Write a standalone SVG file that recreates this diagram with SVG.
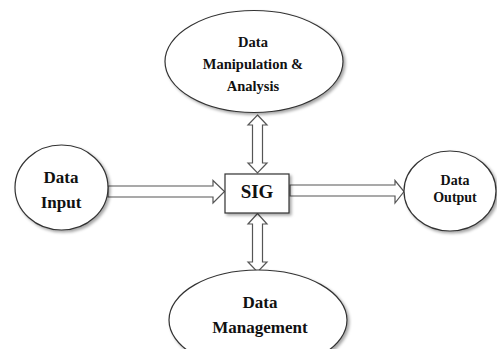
<svg xmlns="http://www.w3.org/2000/svg" width="497" height="349" viewBox="0 0 497 349">
<defs>
<filter id="sh" x="-20%" y="-20%" width="140%" height="140%">
<feDropShadow dx="2" dy="2" stdDeviation="1.5" flood-color="#000" flood-opacity="0.35"/>
</filter>
<style>
.node{fill:#fff;stroke:#333;stroke-width:1.2;filter:url(#sh)}
.arr{fill:#fff;stroke:#555;stroke-width:1.2;stroke-linejoin:miter}
.t{font-family:'Liberation Serif','DejaVu Serif',serif;font-weight:bold;fill:#111;text-anchor:middle}
</style>
</defs>
<rect width="497" height="349" fill="#fff"/>
<g id="connectors">
<path class="arr" d="M108,186 H213 V180.5 L224.5,191.5 L213,203 V197 H108 Z"/>
<path class="arr" d="M290,185 H395 V180.5 L404,191.5 L395,203 V196 H290 Z"/>
<path class="arr" d="M257.5,115 L267,125 H262.5 V163 H267 L257.5,173 L248,163 H252.5 V125 H248 Z"/>
<path class="arr" d="M257.5,213.5 L267,224 H262.5 V262 H267 L257.5,272 L248,262 H252.5 V224 H248 Z"/>
</g>
<g id="manipulation">
<ellipse class="node" cx="254" cy="61.5" rx="89" ry="51"/>
<text class="t" x="253" y="47" font-size="14.5" font-family="Liberation Serif, serif">Data</text>
<text class="t" x="253" y="69" font-size="14.5" font-family="Liberation Serif, serif">Manipulation &amp;</text>
<text class="t" x="253" y="91" font-size="14.5" font-family="Liberation Serif, serif">Analysis</text>
</g>
<g id="input">
<ellipse class="node" cx="61.5" cy="187.5" rx="46.5" ry="42.5"/>
<text class="t" x="61" y="183" font-size="17" font-family="Liberation Serif, serif">Data</text>
<text class="t" x="61" y="208" font-size="17" font-family="Liberation Serif, serif">Input</text>
</g>
<g id="sig">
<rect class="node" x="225" y="174" width="64" height="39"/>
<text class="t" x="257" y="198" font-size="19" font-family="Liberation Serif, serif">SIG</text>
</g>
<g id="output">
<ellipse class="node" cx="450" cy="191" rx="46" ry="40"/>
<text class="t" x="455" y="185" font-size="14" font-family="Liberation Serif, serif">Data</text>
<text class="t" x="455" y="202" font-size="14" font-family="Liberation Serif, serif">Output</text>
</g>
<g id="management">
<ellipse class="node" cx="258" cy="320" rx="89" ry="50"/>
<text class="t" x="260" y="308" font-size="17" font-family="Liberation Serif, serif">Data</text>
<text class="t" x="260" y="333" font-size="17" font-family="Liberation Serif, serif">Management</text>
</g>
</svg>
